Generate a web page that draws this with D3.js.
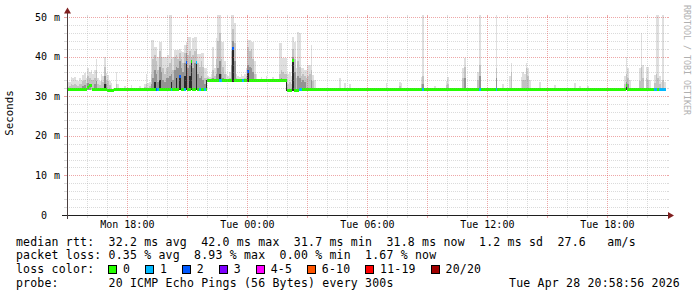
<!DOCTYPE html>
<html>
<head>
<meta charset="utf-8">
<script src="https://cdn.jsdelivr.net/npm/d3@7"></script>
<style>
  html, body { margin: 0; padding: 0; background: #fff; }
  svg { display: block; }
  text { font-family: "DejaVu Sans Mono", monospace; }
</style>
</head>
<body>
<svg id="chart" width="697" height="297"></svg>
<script>
// ---- data ----
var timeStart = "2026-04-27 14:58:56";
var timeEnd = "2026-04-28 20:58:56";
var medianEnd = "28 20:55";

var yTickValues = [0, 10, 20, 30, 40, 50];
var xLabelTimes = ["27 18:00", "28 00:00", "28 06:00", "28 12:00", "28 18:00"];

var lossLabels = ["0", "1", "2", "3", "4-5", "6-10", "11-19", "20/20"];
var lossColors = ["#26ff00", "#00b8ff", "#0059ff", "#7e00ff", "#ff00ff", "#ff5500", "#ff0000", "#a10000"];
var lossLimits = [1, 2, 3, 4, 6, 11, 20];

var rttStats = ["32.2 ms avg", "42.0 ms max", "31.7 ms min", "31.8 ms now", "1.2 ms sd", "27.6   am/s"];
var lossStats = ["0.35 % avg", "8.93 % max", "0.00 % min", "1.67 % now"];
var probeText = "20 ICMP Echo Pings (56 Bytes) every 300s";
var stampText = "Tue Apr 28 20:58:56 2026";

// median rtt change points: [time, ms, lost pings]
var medianPoints = [
  ["27 15:00", 31.8, 0], ["27 16:00", 32.3, 0], ["27 16:05", 32.6, 0], ["27 16:15", 31.8, 0],
  ["27 17:00", 31.5, 0], ["27 17:20", 31.8, 0],
  ["27 19:25", 31.8, 2], ["27 19:30", 31.8, 1], ["27 19:35", 31.8, 0],
  ["27 20:10", 31.8, 1], ["27 20:15", 31.8, 0],
  ["27 20:35", 34.9, 2], ["27 20:40", 31.8, 0], ["27 20:50", 31.8, 1],
  ["27 20:55", 38.5, 2], ["27 21:00", 31.8, 0], ["27 21:10", 38.7, 0], ["27 21:15", 31.8, 0],
  ["27 21:25", 38.5, 1], ["27 21:30", 31.8, 0], ["27 21:35", 31.8, 1], ["27 21:40", 31.8, 0],
  ["27 21:50", 31.8, 1], ["27 21:55", 31.8, 0],
  ["27 22:00", 33.9, 0], ["27 22:35", 33.9, 1], ["27 22:45", 33.9, 0],
  ["27 23:15", 42.1, 2], ["27 23:20", 33.9, 0], ["27 23:45", 33.9, 1], ["27 23:50", 33.9, 0],
  ["28 00:00", 36.2, 2], ["28 00:05", 33.9, 0],
  ["28 02:00", 31.4, 0], ["28 02:15", 39.1, 0], ["28 02:20", 31.5, 0],
  ["28 02:35", 31.8, 1], ["28 02:45", 31.8, 0],
  ["28 08:45", 31.8, 1], ["28 08:50", 31.8, 0],
  ["28 11:35", 31.8, 1], ["28 11:40", 31.8, 0],
  ["28 12:25", 31.8, 1], ["28 12:30", 31.8, 0],
  ["28 18:55", 32.8, 0], ["28 19:00", 31.8, 0],
  ["28 20:20", 31.8, 1], ["28 20:30", 31.8, 0], ["28 20:35", 31.8, 1]
];

// smoke columns: [time, lowest, top (light), mid gray, dark gray, black] in ms
var smokeRows = [
  ["27 15:00",31.6,33.5,32.4,0,0], ["27 15:05",31.6,33.7,32.6,0,0], ["27 15:10",31.6,34.9,33.0,0,0],
  ["27 15:15",31.6,34.5,32.8,0,0], ["27 15:20",31.6,34.9,33.2,0,0], ["27 15:25",31.6,34.2,32.8,0,0],
  ["27 15:30",31.6,33.9,32.6,0,0], ["27 15:35",31.6,34.6,33.2,0,0], ["27 15:40",31.6,34.2,33.0,0,0],
  ["27 15:45",31.6,35.4,33.8,32.6,0], ["27 15:50",31.6,35.9,34.2,32.8,0], ["27 15:55",31.6,34.6,33.4,0,0],
  ["27 16:00",31.6,37.0,35.0,33.4,0], ["27 16:05",31.6,36.2,34.6,33.2,0], ["27 16:10",31.6,36.6,34.2,0,0],
  ["27 16:15",31.6,35.6,34.0,0,0], ["27 16:20",31.6,36.6,34.6,33.0,0], ["27 16:25",31.6,39.3,36.5,33.8,0],
  ["27 16:30",31.6,34.6,33.2,0,0], ["27 16:35",31.6,33.8,32.8,0,0], ["27 16:40",31.6,35.6,33.8,0,0],
  ["27 16:45",31.6,35.0,33.5,0,0], ["27 16:50",31.6,39.8,37.5,35.0,33.0], ["27 16:55",31.6,35.9,34.2,33.0,0],
  ["27 17:00",31.6,35.4,33.8,0,0], ["27 17:05",31.6,33.9,32.8,0,0], ["27 17:10",31.6,33.4,0,0,0],
  ["27 17:25",31.6,36.2,33.0,0,0], ["27 17:30",31.6,33.0,0,0,0], ["27 17:50",31.6,32.6,0,0,0],
  ["27 18:10",31.6,32.8,0,0,0], ["27 18:35",31.6,32.6,0,0,0], ["27 18:50",31.6,33.0,32.4,0,0],
  ["27 18:55",31.6,35.6,33.0,0,0], ["27 19:00",31.6,33.4,0,0,0], ["27 19:05",31.6,33.5,32.6,0,0],
  ["27 19:10",31.6,44.3,35.5,33.0,0], ["27 19:15",31.6,44.3,39.5,34.5,0], ["27 19:20",31.6,42.5,40.5,36.5,33.5],
  ["27 19:25",31.6,42.5,39.0,35.5,0], ["27 19:30",31.6,39.9,36.5,33.5,0], ["27 19:35",31.6,43.8,41.5,37.5,34.0],
  ["27 19:40",31.6,43.8,40.0,36.0,0], ["27 19:45",31.6,40.0,37.0,34.0,0], ["27 19:50",31.6,39.9,35.5,33.5,0],
  ["27 19:55",31.6,39.9,37.0,34.5,0], ["27 20:00",31.6,40.5,37.5,34.5,0], ["27 20:05",31.6,50.4,38.5,35.0,0],
  ["27 20:10",31.6,50.4,39.5,35.5,33.5], ["27 20:15",31.6,40.0,36.5,34.0,0], ["27 20:20",31.6,41.7,40.0,36.5,0],
  ["27 20:25",31.6,41.7,40.5,37.5,34.5], ["27 20:30",31.6,41.7,39.5,37.0,0], ["27 20:35",31.6,42.0,41.0,39.0,34.9],
  ["27 20:40",31.6,41.5,39.5,37.0,0], ["27 20:45",31.6,41.2,38.5,36.0,0], ["27 20:50",31.6,43.0,41.0,38.5,35.0],
  ["27 20:55",31.6,43.8,43.0,41.0,38.5], ["27 21:00",31.6,45.0,40.5,37.0,0], ["27 21:05",31.6,45.0,41.5,38.0,35.0],
  ["27 21:10",31.6,42.0,40.0,39.0,38.7], ["27 21:15",31.6,44.6,40.5,37.0,0], ["27 21:20",31.6,45.0,41.5,38.5,0],
  ["27 21:25",31.6,45.0,42.0,39.0,38.5], ["27 21:30",31.6,40.6,38.5,35.5,0], ["27 21:35",31.6,40.6,37.5,34.5,0],
  ["27 21:40",31.6,40.8,39.0,35.0,0], ["27 21:45",31.6,40.8,37.5,34.0,0], ["27 21:50",31.6,37.0,34.5,33.0,0],
  ["27 21:55",31.6,37.0,34.5,34.0,34.0],
  ["27 22:00",33.6,35.0,34.5,0,0], ["27 22:05",33.6,34.8,34.3,0,0], ["27 22:10",33.6,35.5,34.6,0,0],
  ["27 22:15",33.6,42.5,36.5,34.5,0], ["27 22:20",33.6,37.0,35.0,0,0], ["27 22:25",33.6,44.6,39.5,35.5,0],
  ["27 22:30",33.6,50.4,44.0,37.0,0], ["27 22:35",33.6,50.4,46.0,39.0,35.5], ["27 22:40",33.6,43.8,39.5,35.5,0],
  ["27 22:45",33.6,43.8,37.5,34.5,0], ["27 22:50",33.6,39.0,35.5,0,0], ["27 22:55",33.6,35.5,34.4,0,0],
  ["27 23:00",33.6,35.0,0,0,0], ["27 23:05",33.6,36.0,34.6,0,0], ["27 23:10",33.6,50.4,41.5,38.0,0],
  ["27 23:15",33.6,50.4,47.0,44.0,42.1], ["27 23:20",33.6,48.4,43.5,39.0,0], ["27 23:25",33.6,35.6,34.5,0,0],
  ["27 23:30",33.6,35.0,0,0,0], ["27 23:35",33.6,34.8,0,0,0], ["27 23:40",33.6,35.5,34.4,0,0],
  ["27 23:45",33.6,35.0,0,0,0], ["27 23:50",33.6,35.5,34.5,0,0], ["27 23:55",33.6,37.0,35.0,0,0],
  ["28 00:00",33.6,44.2,42.5,38.0,36.2], ["28 00:05",33.6,44.2,41.5,37.5,0], ["28 00:10",33.6,43.8,42.0,37.0,0],
  ["28 00:15",33.6,43.8,39.5,36.0,0], ["28 00:20",33.6,39.0,35.5,0,0], ["28 00:25",33.6,35.5,34.4,0,0],
  ["28 00:40",33.6,34.8,0,0,0], ["28 00:55",33.6,35.2,34.4,0,0], ["28 01:15",33.6,34.8,0,0,0],
  ["28 01:35",33.6,43.4,35.5,0,0], ["28 01:40",33.6,43.4,36.5,34.5,0], ["28 01:45",33.6,39.6,36.0,0,0],
  ["28 01:50",33.6,39.6,35.5,0,0], ["28 01:55",31.3,39.6,35.5,34.2,34.0],
  ["28 02:00",31.3,35.5,33.2,0,0], ["28 02:05",31.3,36.0,33.6,0,0], ["28 02:10",31.3,35.0,33.2,0,0],
  ["28 02:15",31.3,45.0,42.0,40.0,39.1], ["28 02:20",31.3,43.8,39.5,36.0,0], ["28 02:25",31.6,37.0,34.5,0,0],
  ["28 02:30",31.6,46.3,39.0,35.0,0], ["28 02:35",31.6,45.9,37.5,34.5,0], ["28 02:40",31.6,37.0,35.0,33.5,0],
  ["28 02:45",31.6,37.0,35.5,34.0,0], ["28 02:50",31.6,36.6,35.0,33.5,0], ["28 02:55",31.6,36.6,34.5,0,0],
  ["28 03:00",31.6,37.9,35.0,0,0], ["28 03:05",31.6,37.9,35.5,0,0], ["28 03:10",31.6,42.9,36.6,34.0,0],
  ["28 03:15",31.6,35.4,33.8,0,0], ["28 03:20",31.6,34.0,0,0,0],
  ["28 04:35",31.6,34.5,0,0,0], ["28 04:50",31.6,33.4,0,0,0], ["28 05:05",31.6,33.0,0,0,0],
  ["28 06:55",31.6,33.4,0,0,0], ["28 07:35",31.6,33.7,32.6,0,0], ["28 07:40",31.6,33.3,0,0,0],
  ["28 08:40",31.6,34.9,33.2,0,0], ["28 08:45",31.6,50.4,35.0,33.0,0], ["28 09:20",31.6,32.6,0,0,0],
  ["28 09:55",31.6,33.8,32.8,0,0], ["28 10:00",31.6,34.9,33.2,0,0], ["28 10:45",31.6,37.0,34.5,0,0],
  ["28 10:50",31.6,39.6,37.5,34.5,0], ["28 11:30",31.6,36.0,34.0,0,0], ["28 11:35",31.6,50.4,38.0,35.0,0],
  ["28 12:25",31.6,50.4,37.0,34.5,0], ["28 12:45",31.6,33.1,0,0,0], ["28 13:05",31.6,35.0,0,0,0],
  ["28 13:10",31.6,38.3,36.0,0,0], ["28 13:40",31.6,34.9,0,0,0], ["28 13:45",31.6,36.2,34.0,0,0],
  ["28 13:50",31.6,35.6,34.0,0,0], ["28 13:55",31.6,38.3,37.0,0,0], ["28 14:00",31.6,37.0,35.0,0,0],
  ["28 14:05",31.6,34.0,0,0,0], ["28 14:35",31.6,33.7,0,0,0], ["28 15:20",31.6,32.8,0,0,0],
  ["28 16:20",31.6,33.3,0,0,0], ["28 16:35",31.6,32.7,0,0,0], ["28 17:00",31.6,32.7,0,0,0],
  ["28 18:50",31.6,35.0,33.2,0,0], ["28 18:55",31.6,40.0,35.5,33.5,33.0], ["28 19:00",31.6,37.0,34.5,33.0,0],
  ["28 19:05",31.6,34.0,0,0,0], ["28 19:35",31.6,37.0,33.8,0,0], ["28 19:40",31.6,45.9,37.5,0,0],
  ["28 19:45",31.6,37.9,34.5,0,0], ["28 19:55",31.6,37.5,34.5,0,0], ["28 20:00",31.6,37.5,34.0,0,0],
  ["28 20:05",31.6,34.0,0,0,0], ["28 20:20",31.6,35.4,33.4,0,0], ["28 20:25",31.6,50.4,35.5,0,0],
  ["28 20:30",31.6,50.4,34.5,0,0], ["28 20:35",31.6,35.0,33.2,0,0], ["28 20:40",31.6,33.5,0,0,0],
  ["28 20:45",31.6,50.4,34.0,0,0], ["28 20:50",31.6,33.5,0,0,0]
];

var smokeShades = ["#dfdfdf", "#c2c2c2", "#939393", "#2a2a2a"];

(function() {
  var parseFull = d3.timeParse("%Y-%m-%d %H:%M:%S");
  var parseShort = d3.timeParse("%Y-%m-%d %H:%M");
  function T(s) { return parseShort("2026-04-" + s); }
  function next5(d) { return d3.timeMinute.offset(d, 5); }
  // monospace legend lines keep their runs of spaces
  function keep(s) { return s.replace(/ /g, "\u00a0"); }

  var svg = d3.select("#chart");
  var pLeft = 67, pRight = 667, pTop = 17, pBottom = 215;

  var x = d3.scaleTime()
    .domain([parseFull(timeStart), parseFull(timeEnd)])
    .range([pLeft, pRight]);
  var y = d3.scaleLinear().domain([0, 50]).range([pBottom, pTop]);
  var lossColor = d3.scaleThreshold().domain(lossLimits).range(lossColors);

  svg.append("defs").append("clipPath").attr("id", "plotclip")
    .append("rect").attr("x", pLeft).attr("y", 14).attr("width", pRight - pLeft).attr("height", pBottom - 14);

  var plot = svg.append("g").attr("clip-path", "url(#plotclip)");

  // smoke
  var smoke = plot.append("g").attr("shape-rendering", "crispEdges");
  smokeRows.forEach(function(r) {
    var t = T(r[0]), x0 = x(t), x1 = x(next5(t)), lo = r[1];
    [r[2], r[3], r[4], r[5]].forEach(function(v, i) {
      if (v > lo) {
        smoke.append("rect")
          .attr("x", x0).attr("width", x1 - x0)
          .attr("y", y(v)).attr("height", y(lo) - y(v))
          .attr("fill", smokeShades[i]);
      }
    });
  });

  // median band coloured by loss
  var med = plot.append("g").attr("shape-rendering", "crispEdges");
  medianPoints.forEach(function(p, i) {
    var t0 = T(p[0]);
    var t1 = i + 1 < medianPoints.length ? T(medianPoints[i + 1][0]) : T(medianEnd);
    med.append("rect")
      .attr("x", x(t0)).attr("width", x(t1) - x(t0))
      .attr("y", y(p[1]) - 1.5).attr("height", 3)
      .attr("fill", lossColor(p[2]));
  });

  // grid on top, rrdtool style
  var minorCol = "rgba(143,143,143,0.32)", majorCol = "rgba(222,79,79,0.5)";
  var grid = svg.append("g").attr("shape-rendering", "crispEdges");
  d3.range(0, 51, 2).forEach(function(v) {
    var col = v % 10 === 0 ? majorCol : minorCol;
    var yy = Math.round(y(v)) + 0.5;
    if (v > 0) {
      grid.append("line").attr("x1", pLeft).attr("x2", pRight).attr("y1", yy).attr("y2", yy)
        .attr("stroke", col).attr("stroke-dasharray", "1,1");
    }
    grid.append("line").attr("x1", pLeft - 3).attr("x2", pLeft).attr("y1", yy).attr("y2", yy).attr("stroke", col);
    grid.append("line").attr("x1", pRight).attr("x2", pRight + 2).attr("y1", yy).attr("y2", yy).attr("stroke", col);
  });

  d3.timeHour.every(1).range(x.domain()[0], x.domain()[1]).forEach(function(h) {
    var col = h.getHours() % 3 === 0 ? majorCol : minorCol;
    var xx = Math.round(x(h)) + 0.5;
    grid.append("line").attr("x1", xx).attr("x2", xx).attr("y1", pTop).attr("y2", pBottom)
      .attr("stroke", col).attr("stroke-dasharray", "1,1");
    grid.append("line").attr("x1", xx).attr("x2", xx).attr("y1", pBottom).attr("y2", pBottom + 3).attr("stroke", col);
    grid.append("line").attr("x1", xx).attr("x2", xx).attr("y1", pTop - 2).attr("y2", pTop).attr("stroke", col);
  });

  // axes + arrows
  var axes = svg.append("g").attr("shape-rendering", "crispEdges");
  axes.append("line").attr("x1", pLeft - 5).attr("x2", pRight + 2).attr("y1", pBottom + 0.5).attr("y2", pBottom + 0.5)
    .attr("stroke", "#1f1f1f");
  axes.append("line").attr("x1", pLeft + 0.5).attr("x2", pLeft + 0.5).attr("y1", pBottom + 4).attr("y2", 11)
    .attr("stroke", "#4a3f3f");
  svg.append("path").attr("d", "M668,212L674,215.5L668,219Z").attr("fill", "#801f1f");
  svg.append("path").attr("d", "M64,13.5L67.5,7.5L71,13.5Z").attr("fill", "#801f1f");

  // y labels
  var ylab = svg.append("g").attr("font-size", "10px").attr("fill", "#000");
  yTickValues.forEach(function(v) {
    ylab.append("text").attr("x", 47).attr("y", y(v) + 3.6).attr("text-anchor", "end").text(v);
    if (v !== 0) ylab.append("text").attr("x", 54).attr("y", y(v) + 3.6).text("m");
  });

  // x labels
  var fmt = d3.timeFormat("%a %H:%M");
  var xlab = svg.append("g").attr("font-size", "10px").attr("fill", "#000");
  xLabelTimes.forEach(function(s) {
    xlab.append("text").attr("x", x(T(s))).attr("y", 227.5).attr("text-anchor", "middle").text(fmt(T(s)));
  });

  svg.append("text").attr("transform", "translate(13,113) rotate(-90)")
    .attr("text-anchor", "middle").attr("font-size", "10.8px").text("Seconds");

  svg.append("text").attr("transform", "translate(684,5) rotate(90)")
    .attr("font-size", "8.3px").attr("fill", "#b0b0b0").text("RRDTOOL / TOBI OETIKER");

  // legend
  var leg = svg.append("g").attr("font-size", "11.5px").attr("letter-spacing", "0.2px").attr("fill", "#000");
  leg.append("text").attr("x", 16).attr("y", 245.5).text(keep("median rtt:  " + rttStats.join("  ")));
  leg.append("text").attr("x", 16).attr("y", 259.3).text(keep("packet loss: " + lossStats.join("  ")));
  leg.append("text").attr("x", 16).attr("y", 273.1).text("loss color:");
  leg.append("text").attr("x", 16).attr("y", 286.9).text(keep("probe:       " + probeText));
  leg.append("text").attr("x", 680).attr("y", 286.9).attr("text-anchor", "end").text(stampText);

  var sx = 108;
  lossLabels.forEach(function(lbl, i) {
    leg.append("rect").attr("x", Math.round(sx) + 0.5).attr("y", 265.5).attr("width", 8).attr("height", 8)
      .attr("fill", lossColors[i]).attr("stroke", "#000").attr("stroke-width", 1);
    leg.append("text").attr("x", sx + 15).attr("y", 273.1).text(lbl);
    sx = sx + 15 + lbl.length * 7.12 + 14.8;
  });
})();
</script>
</body>
</html>
